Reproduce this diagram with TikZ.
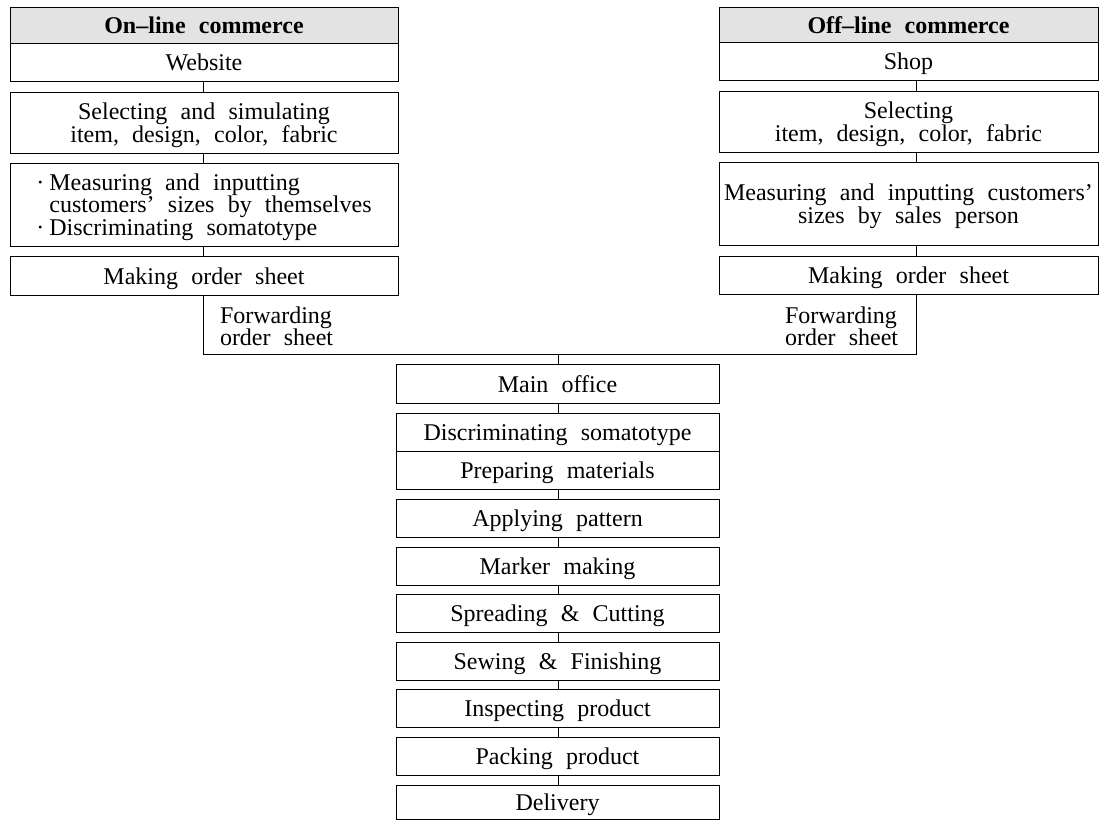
\documentclass[tikz,border=0pt]{standalone}
\usepackage{fontspec}
\setmainfont{Liberation Serif}[WordSpace=2.2]
\newcommand\firstup{\rule{0pt}{22pt}}
\begin{document}
\begin{tikzpicture}[x=1pt,y=-1pt,
  pbox/.style={draw, line width=0.8pt, rectangle, inner sep=0pt, outer sep=0pt,
    align=center, anchor=north west, font=\fontsize{24}{23.5}\selectfont},
  one/.style={text height=19.5pt, text depth=2.5pt},
  hdr/.style={fill=gray!22, font=\fontsize{24}{24}\selectfont\bfseries},
  plain/.style={inner sep=0pt, outer sep=0pt, align=left, anchor=west,
    font=\fontsize{24}{22}\selectfont},
  conn/.style={line width=0.8pt}]
\useasboundingbox (0,0) rectangle (1099,820);
% left column
\node[pbox,hdr,one,minimum width=388pt,minimum height=36pt] (lh) at (10,7) {On–line commerce};
\node[pbox,one,minimum width=388pt,minimum height=38pt] (lw) at (10,43) {Website};
\node[pbox,minimum width=388pt,minimum height=61pt] (ls) at (10,92) {\firstup Selecting and simulating\\item, design, color, fabric};
\node[pbox,align=left,minimum width=388pt,minimum height=83pt,font=\fontsize{24}{22.5}\selectfont] (lm) at (10,163)
  {\firstup\makebox[13pt][l]{·}Measuring and inputting\\\hspace*{13pt}customers’ sizes by themselves\\\makebox[13pt][l]{·}Discriminating somatotype};
\node[pbox,one,minimum width=388pt,minimum height=39pt] (lo) at (10,256) {Making order sheet};
\node[plain] (lf) at (220,326) {Forwarding\\order sheet};
% right column
\node[pbox,hdr,one,minimum width=379pt,minimum height=35pt] (rh) at (719,7) {Off–line commerce};
\node[pbox,one,minimum width=379pt,minimum height=38pt] (rs) at (719,42) {Shop};
\node[pbox,minimum width=379pt,minimum height=61pt] (rsel) at (719,91) {\firstup Selecting\\item, design, color, fabric};
\node[pbox,minimum width=379pt,minimum height=83pt,font=\fontsize{24}{22.5}\selectfont] (rm) at (719,162) {\firstup Measuring and inputting customers’\\sizes by sales person};
\node[pbox,one,minimum width=379pt,minimum height=38pt] (ro) at (719,256) {Making order sheet};
\node[plain] (rf) at (785,326) {Forwarding\\order sheet};
% central column
\node[pbox,one,minimum width=323pt,minimum height=39pt] (main) at (396,364) {Main office};
\node[pbox,one,minimum width=323pt,minimum height=38pt] (disc) at (396,413) {Discriminating somatotype};
\node[pbox,one,minimum width=323pt,minimum height=38pt] (prep) at (396,451) {Preparing materials};
\node[pbox,one,minimum width=323pt,minimum height=38pt] (appl) at (396,499) {Applying pattern};
\node[pbox,one,minimum width=323pt,minimum height=38pt] (mark) at (396,547) {Marker making};
\node[pbox,one,minimum width=323pt,minimum height=38pt] (spr) at (396,594) {Spreading \& Cutting};
\node[pbox,one,minimum width=323pt,minimum height=38pt] (sew) at (396,642) {Sewing \& Finishing};
\node[pbox,one,minimum width=323pt,minimum height=38pt] (insp) at (396,689) {Inspecting product};
\node[pbox,one,minimum width=323pt,minimum height=38pt] (pack) at (396,737) {Packing product};
\node[pbox,one,minimum width=323pt,minimum height=34pt] (deliv) at (396,785) {Delivery};
% connectors
\coordinate (lx) at (203,0);
\coordinate (rx) at (916,0);
\coordinate (cx) at (558,0);
\coordinate (jl) at (203,354);
\coordinate (jr) at (916,354);
\coordinate (jc) at (558,354);
\draw[conn] (lw.south -| lx) -- (ls.north -| lx);
\draw[conn] (ls.south -| lx) -- (lm.north -| lx);
\draw[conn] (lm.south -| lx) -- (lo.north -| lx);
\draw[conn] (rs.south -| rx) -- (rsel.north -| rx);
\draw[conn] (rsel.south -| rx) -- (rm.north -| rx);
\draw[conn] (rm.south -| rx) -- (ro.north -| rx);
\draw[conn] (lo.south -| lx) -- (jl) -- (jr) -- (ro.south -| rx);
\draw[conn] (jc) -- (main.north -| cx);
\draw[conn] (main.south -| cx) -- (disc.north -| cx);
\draw[conn] (prep.south -| cx) -- (appl.north -| cx);
\draw[conn] (appl.south -| cx) -- (mark.north -| cx);
\draw[conn] (mark.south -| cx) -- (spr.north -| cx);
\draw[conn] (spr.south -| cx) -- (sew.north -| cx);
\draw[conn] (sew.south -| cx) -- (insp.north -| cx);
\draw[conn] (insp.south -| cx) -- (pack.north -| cx);
\draw[conn] (pack.south -| cx) -- (deliv.north -| cx);
\end{tikzpicture}
\end{document}
